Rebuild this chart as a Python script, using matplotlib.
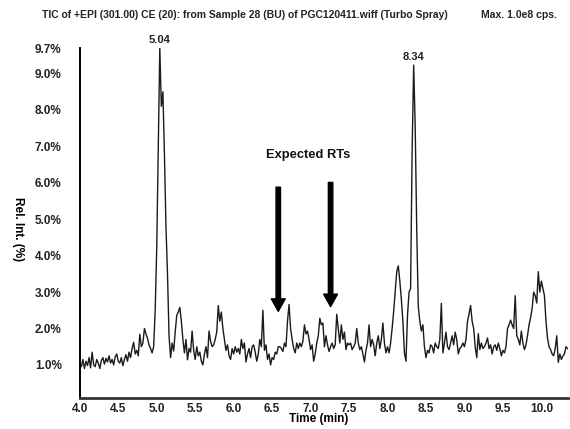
import numpy as np
import matplotlib.pyplot as plt

plt.rcParams['font.family'] = ['Liberation Sans', 'DejaVu Sans']

# TIC trace, relative intensity (%) sampled every 0.02 min starting at 4.00 min
intensity = [
    1.05, 0.95, 1.15, 0.90, 1.10, 0.98, 1.20, 0.92, 1.35, 1.00,   # 4.00
    0.95, 1.15, 1.05, 0.90, 1.12, 1.20, 1.02, 1.18, 1.08, 1.25,   # 4.20
    1.05, 1.15, 1.00, 1.22, 1.30, 1.10, 1.05, 1.20, 0.98, 1.15,   # 4.40
    1.28, 1.10, 1.35, 1.20, 1.45, 1.62, 1.30, 1.40, 1.25, 1.84,   # 4.60
    1.50, 1.60, 2.00, 1.85, 1.73, 1.55, 1.45, 1.33, 1.50, 2.50,   # 4.80
    4.20, 7.00, 9.70, 8.10, 8.50, 6.80, 4.80, 3.50, 1.80, 1.20,   # 5.00
    1.60, 1.38, 1.90, 2.36, 2.45, 2.58, 2.20, 1.70, 1.33, 1.70,   # 5.20
    1.14, 1.45, 1.35, 1.93, 1.40, 1.15, 1.50, 1.25, 1.35, 1.10,   # 5.40
    1.00, 1.30, 1.50, 1.20, 1.93, 1.65, 1.50, 1.55, 1.70, 1.90,   # 5.60
    2.63, 2.20, 2.45, 2.00, 1.70, 1.40, 1.55, 1.25, 1.15, 1.45,   # 5.80
    1.30, 1.50, 1.35, 1.45, 1.30, 1.70, 1.45, 1.60, 1.08, 1.30,   # 6.00
    1.45, 1.20, 1.50, 1.55, 1.35, 1.10, 1.30, 1.70, 1.50, 2.50,   # 6.20
    1.40, 1.55, 1.15, 1.30, 1.00, 1.20, 1.15, 1.35, 1.30, 1.50,   # 6.40
    1.50, 1.45, 1.37, 1.60, 1.50, 2.20, 2.66, 2.00, 1.70, 1.45,   # 6.60
    1.33, 1.60, 1.45, 1.60, 1.50, 1.65, 2.10, 1.85, 1.93, 1.70,   # 6.80
    1.42, 1.55, 1.10, 1.30, 1.60, 1.80, 2.28, 2.10, 2.15, 1.50,   # 7.00
    1.80, 1.55, 1.37, 1.50, 1.60, 1.45, 1.55, 2.39, 2.00, 1.60,   # 7.20
    2.10, 1.70, 1.90, 1.42, 1.60, 1.55, 1.60, 1.42, 1.50, 1.60,   # 7.40
    2.00, 1.60, 1.42, 1.50, 1.30, 1.08, 1.40, 1.60, 2.10, 1.50,   # 7.60
    1.70, 1.55, 1.25, 1.60, 1.80, 1.45, 1.70, 2.15, 1.60, 1.33,   # 7.80
    1.50, 1.33, 1.60, 2.00, 2.47, 3.00, 3.56, 3.72, 3.30, 2.80,   # 8.00
    2.20, 1.33, 1.10, 2.36, 3.00, 3.10, 6.86, 9.23, 7.54, 4.70,   # 8.20
    2.60, 2.20, 1.93, 2.10, 1.50, 1.20, 1.40, 1.33, 1.55, 1.50,   # 8.40
    1.33, 1.60, 1.50, 1.45, 1.70, 2.69, 1.33, 1.60, 1.90, 1.50,   # 8.60
    1.42, 1.60, 1.80, 1.55, 1.90, 1.70, 1.30, 1.45, 1.50, 1.60,   # 8.80
    1.50, 1.70, 2.20, 2.40, 2.63, 2.20, 2.00, 1.50, 1.20, 1.86,   # 9.00
    1.42, 1.60, 1.45, 1.50, 1.60, 1.74, 1.45, 1.55, 1.30, 1.50,   # 9.20
    1.55, 1.40, 1.60, 1.45, 1.25, 1.40, 1.33, 1.50, 2.00, 2.10,   # 9.40
    2.23, 2.10, 2.00, 2.90, 1.80, 1.70, 1.55, 1.93, 1.60, 1.42,   # 9.60
    1.55, 1.80, 2.10, 2.30, 2.55, 3.00, 2.90, 2.70, 3.56, 3.00,   # 9.80
    3.30, 3.10, 2.90, 2.20, 1.73, 1.50, 1.42, 1.30, 1.25, 1.45,   # 10.00
    1.80, 1.07, 1.30, 1.15, 1.25, 1.30, 1.50, 1.45,               # 10.20
]
time = np.round(4.0 + 0.02 * np.arange(len(intensity)), 2)
intensity = np.array(intensity)

peak_rt = [5.04, 8.34]
expected_rt = [6.58, 7.26]
expected_top = [5.88, 6.01]
expected_tip = [2.47, 2.60]

x_ticks = [4.0, 4.5, 5.0, 5.5, 6.0, 6.5, 7.0, 7.5, 8.0, 8.5, 9.0, 9.5, 10.0]
y_ticks = [1.0, 2.0, 3.0, 4.0, 5.0, 6.0, 7.0, 8.0, 9.0, 9.7]

fig = plt.figure(figsize=(5.7, 4.29), dpi=100)
ax = fig.add_axes([0.140, 0.073, 0.857, 0.815])

ax.plot(time, intensity, color='#1a1a1a', lw=1.0)

ax.set_xlim(4.0, 10.35)
ax.set_ylim(0.1, 9.7)
ax.set_xticks(x_ticks)
ax.set_xticklabels([f'{v:.1f}' for v in x_ticks])
ax.set_yticks(y_ticks)
ax.set_yticklabels([f'{v:.1f}%' for v in y_ticks])
ax.tick_params(axis='x', length=0, labelsize=8.5, pad=3.5)
ax.tick_params(axis='y', length=0, labelsize=8.5, pad=13)
for lbl in ax.get_xticklabels() + ax.get_yticklabels():
    lbl.set_fontweight('bold')
    lbl.set_color('#222222')

for side in ['top', 'right']:
    ax.spines[side].set_visible(False)
ax.spines['left'].set_linewidth(1.4)
ax.spines['bottom'].set_linewidth(2.0)
ax.spines['bottom'].set_color('#333333')

ax.set_xlabel('Time (min)', fontsize=8.5, fontweight='bold', va='center')
ax.xaxis.set_label_coords(0.49, -0.061)
ax.set_ylabel('Rel. Int. (%)', fontsize=8.5, fontweight='bold', rotation=-90,
              va='center')
ax.yaxis.set_label_coords(-0.127, 0.483)

# retention time labels at the two main peaks
for rt in peak_rt:
    top = intensity[np.argmin(np.abs(time - rt))]
    ax.text(rt, top + 0.08, f'{rt:.2f}', ha='center', va='bottom',
            fontsize=8, fontweight='bold', color='#222222', clip_on=False)

# arrows marking the expected retention times
for rt, y0, y1 in zip(expected_rt, expected_top, expected_tip):
    ax.annotate('', xy=(rt, y1), xytext=(rt, y0),
                arrowprops=dict(facecolor='black', edgecolor='black',
                                width=3.2, headwidth=10, headlength=9))
ax.text(np.mean(expected_rt) + 0.05, 6.6, 'Expected RTs', ha='center',
        va='bottom', fontsize=9.3, fontweight='bold', color='#111111')

fig.text(0.074, 0.965, 'TIC of +EPI (301.00) CE (20): from Sample 28 (BU) of '
         'PGC120411.wiff (Turbo Spray)', fontsize=7.5, fontweight='bold',
         va='center', color='#222222')
fig.text(0.977, 0.965, 'Max. 1.0e8 cps.', fontsize=7.5, fontweight='bold',
         va='center', ha='right', color='#222222')

fig.savefig('out.png', dpi=100)
